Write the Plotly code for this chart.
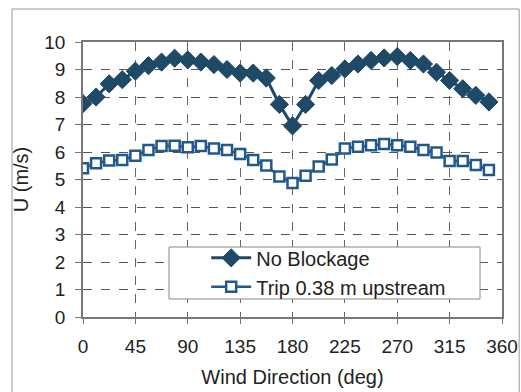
import plotly.graph_objects as go

angles = [0, 11.25, 22.5, 33.75, 45, 56.25, 67.5, 78.75, 90, 101.25, 112.5, 123.75,
          135, 146.25, 157.5, 168.75, 180, 191.25, 202.5, 213.75, 225, 236.25, 247.5,
          258.75, 270, 281.25, 292.5, 303.75, 315, 326.25, 337.5, 348.75]

no_blockage = [7.76, 8.0, 8.48, 8.63, 8.94, 9.14, 9.27, 9.41, 9.35, 9.27, 9.18, 9.0,
               8.87, 8.87, 8.69, 7.73, 6.95, 7.73, 8.6, 8.78, 9.02, 9.2, 9.33, 9.42,
               9.47, 9.33, 9.2, 8.9, 8.6, 8.3, 8.06, 7.82]

trip = [5.41, 5.59, 5.69, 5.71, 5.86, 6.07, 6.22, 6.23, 6.17, 6.22, 6.13, 6.07,
        5.93, 5.71, 5.51, 5.11, 4.87, 5.14, 5.47, 5.73, 6.13, 6.19, 6.25, 6.29,
        6.25, 6.19, 6.07, 5.98, 5.67, 5.67, 5.53, 5.35]

x_ticks = [0, 45, 90, 135, 180, 225, 270, 315, 360]
y_ticks = [0, 1, 2, 3, 4, 5, 6, 7, 8, 9, 10]

c1 = "#1e4a68"
c2 = "#23598a"

fig = go.Figure()
fig.add_trace(go.Scatter(
    x=angles, y=no_blockage, name="No Blockage", mode="lines+markers",
    line=dict(color=c1, width=3),
    marker=dict(symbol="diamond", size=14, color=c1, line=dict(color=c1, width=1)),
))
fig.add_trace(go.Scatter(
    x=angles, y=trip, name="Trip 0.38 m upstream", mode="lines+markers",
    line=dict(color=c2, width=2.5),
    marker=dict(symbol="square", size=10, color="white", line=dict(color=c2, width=2.5)),
))

font = "Liberation Sans, Arial, sans-serif"
fig.update_layout(
    width=521, height=392,
    margin=dict(l=83, r=19, t=42, b=75, autoexpand=False),
    paper_bgcolor="white", plot_bgcolor="white",
    font=dict(family=font, size=19, color="#222"),
    showlegend=True,
    legend=dict(x=0.294, y=0.286, xanchor="left", yanchor="top",
                bgcolor="rgba(0,0,0,0)", borderwidth=0,
                font=dict(size=20), itemwidth=40, tracegroupgap=0),
    xaxis=dict(range=[0, 360], tickvals=x_ticks, showgrid=True,
               gridcolor="#666", griddash="dash", gridwidth=1,
               showline=True, linecolor="#777", linewidth=1.5, mirror=True,
               ticks="outside", ticklen=5, tickcolor="#777",
               ticklabelstandoff=6, automargin=False,
               zeroline=False, tickfont=dict(size=19),
               title=dict(text="Wind Direction (deg)", font=dict(size=20), standoff=14)),
    yaxis=dict(range=[0, 10], tickvals=y_ticks, showgrid=True,
               gridcolor="#555", griddash="dash", gridwidth=1,
               showline=True, linecolor="#777", linewidth=1.5, mirror=True,
               ticks="outside", ticklen=6, tickcolor="#777",
               ticklabelstandoff=6, automargin=False,
               zeroline=False, tickfont=dict(size=19),
               title=dict(text="U (m/s)", font=dict(size=20), standoff=10)),
    shapes=[
        dict(type="rect", xref="paper", yref="paper",
             x0=-0.1695, x1=1.041, y0=-0.35, y1=1.12,
             line=dict(color="#999", width=1), layer="below"),
        dict(type="rect", xref="paper", yref="paper",
             x0=0.2053, x1=0.9475, y0=0.0655, y1=0.2545,
             fillcolor="white", line=dict(color="#888", width=1), layer="above"),
    ],
)

fig.write_html("out.html")
